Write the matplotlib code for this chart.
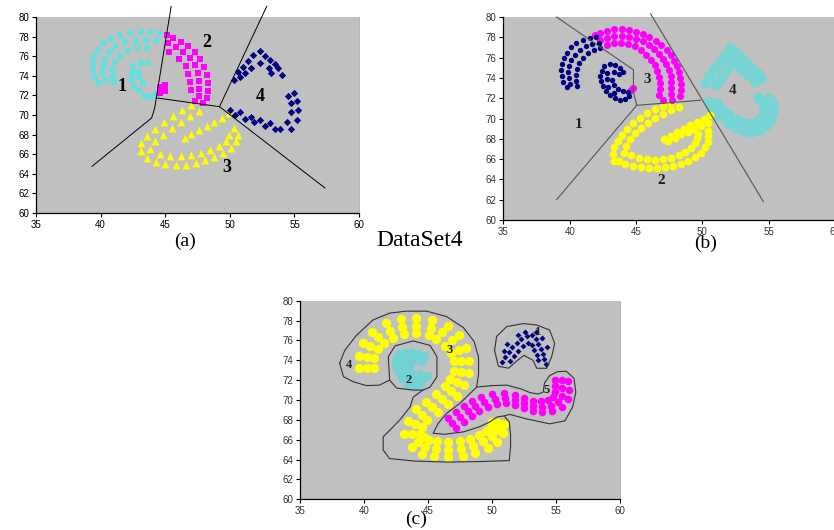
import matplotlib
matplotlib.use("Agg")
import matplotlib.pyplot as plt

x_ticks = [35, 40, 45, 50, 55, 60]
y_ticks = [60, 62, 64, 66, 68, 70, 72, 74, 76, 78, 80]

# ---------------- panel (a) ----------------
a_cyan = [(44.6,78.3),(43.9,78.5),(43.1,78.5),(42.3,78.4),(41.5,78.2),(40.8,77.8),(40.2,77.3),
          (39.8,76.6),(39.5,75.9),(39.4,75.2),(39.4,74.5),(39.6,73.8),(39.9,73.3),
          (44.3,77.6),(43.5,77.7),(42.7,77.6),(41.9,77.4),(41.2,77.0),(40.7,76.4),(40.3,75.7),
          (40.2,75.0),(40.2,74.3),(40.4,73.6),
          (43.6,76.8),(42.9,76.8),(42.1,76.5),(41.5,76.0),(41.1,75.4),(40.9,74.7),(40.95,74.0),(41.0,73.4),
          (42.5,75.0),(43.1,75.3),(43.7,75.3),(42.4,74.3),(42.9,74.4),(42.4,73.6),(42.6,72.9),
          (43.0,72.4),(43.4,71.9),(43.9,71.8),(44.3,72.1),(43.0,73.9),(43.3,73.3)]
a_magenta = [(45.1,78.2),(45.6,77.9),(46.2,77.5),(46.8,77.0),(47.3,76.4),(47.7,75.7),(48.0,74.9),
             (48.2,74.1),(48.3,73.3),(48.3,72.5),(48.2,71.7),
             (45.2,77.3),(45.8,76.9),(46.4,76.4),(46.9,75.8),(47.3,75.1),(47.5,74.3),(47.6,73.5),
             (47.6,72.7),(47.6,71.9),
             (45.3,76.4),(46.1,75.7),(46.6,75.0),(46.8,74.2),(46.9,73.4),(47.0,72.6),(47.3,71.4),(47.9,71.2),
             (44.6,72.9),(45.0,72.5),(44.6,72.2),(45.0,73.1)]
a_yellow = [(47.0,71.0),(46.3,70.5),(45.6,69.9),(44.9,69.3),(44.2,68.6),(43.6,67.9),(43.1,67.1),(43.1,66.3),
            (47.6,70.4),(46.9,69.9),(46.2,69.3),(45.5,68.7),(44.8,68.0),(44.2,67.3),(43.8,66.5),
            (43.6,65.6),(44.3,65.2),(45.0,65.0),(45.8,64.9),(46.6,64.9),(47.4,65.1),(48.1,65.4),
            (48.8,65.7),(49.5,66.1),(50.1,66.6),(50.5,67.3),(50.6,68.0),(50.3,68.7),
            (44.6,66.0),(45.4,65.8),(46.2,65.8),(47.0,65.9),(47.8,66.1),(48.5,66.4),(49.2,66.8),
            (49.7,67.3),(49.9,68.0),
            (49.9,70.2),(49.4,69.7),(48.8,69.3),(48.2,68.9),(47.6,68.5),(47.0,68.1),(46.5,67.7)]
a_blue = [(50.3,73.6),(51.0,74.9),(51.8,76.1),(52.3,76.5),(53.1,75.6),(53.75,74.8),(54.0,74.1),
          (50.8,73.9),(51.6,74.8),(52.3,75.3),(53.0,74.8),(53.2,74.3),
          (50.6,74.4),(51.4,75.5),(52.7,76.0),(53.5,75.2),(51.2,74.3),
          (50.0,70.5),(50.8,70.3),(51.6,69.8),(52.3,69.5),(53.1,69.2),(53.9,68.6),(54.7,68.6),
          (55.2,69.5),(55.3,70.5),(55.2,71.4),(55.0,72.2),(54.5,71.9),
          (50.4,70.0),(51.2,69.6),(51.9,69.3),(52.7,68.9),(53.5,68.6),(54.4,69.3),(54.7,70.3),(54.7,71.2)]
a_lines = [[(45.46,81.1),(44.18,70.7),(43.95,69.7),(39.33,64.76)],
           [(44.3,71.75),(49.2,70.85)],
           [(49.2,70.85),(52.86,81.1)],
           [(49.2,70.85),(57.37,62.55)]]
a_labels = [("1",41.65,72.86),("2",48.2,77.45),("3",49.77,64.6),("4",52.35,71.84)]

# ---------------- panel (b) ----------------
b_blue = [(42.0,78.0),(41.5,77.95),(41.0,77.7),(40.5,77.4),(40.1,77.0),(39.8,76.5),(39.55,76.0),
          (39.4,75.4),(39.35,74.8),(39.4,74.2),(39.5,73.6),(39.8,73.1),
          (42.2,77.45),(41.7,77.35),(41.2,77.1),(40.75,76.75),(40.4,76.3),(40.1,75.8),(39.95,75.2),
          (39.9,74.6),(39.95,74.0),(40.05,73.4),
          (42.3,76.9),(41.8,76.75),(41.35,76.45),(41.0,76.0),(40.7,75.5),(40.55,74.9),(40.5,74.3),
          (40.5,73.7),(40.55,73.2),
          (42.6,75.2),(43.0,75.4),(43.4,75.3),(43.8,75.0),(44.0,74.6),(42.4,74.7),(42.3,74.2),
          (42.35,73.7),(42.5,73.2),(42.7,72.7),(43.0,72.3),(43.4,72.0),(43.8,71.8),(44.2,71.9),
          (44.5,72.2),(44.4,72.6),(44.0,72.7),(43.6,72.9),(43.3,73.3),(43.2,73.8),(42.8,74.5),
          (42.8,73.9),(43.3,74.6),(43.7,74.4),(42.9,73.1),(43.3,72.5)]
b_magenta = [(41.9,78.2),(42.3,78.45),(42.8,78.65),(43.3,78.8),(43.9,78.8),(44.5,78.7),(45.0,78.55),
             (45.5,78.3),(46.0,78.0),(46.5,77.65),(46.9,77.2),(47.3,76.75),(47.6,76.25),(47.85,75.7),
             (48.05,75.15),(48.2,74.6),(48.3,74.0),(48.35,73.4),(48.35,72.8),(48.3,72.2),
             (42.3,77.75),(42.8,77.95),(43.35,78.1),(43.9,78.15),(44.5,78.05),(45.0,77.85),(45.5,77.6),
             (45.95,77.25),(46.35,76.85),(46.7,76.4),(47.0,75.9),(47.25,75.35),(47.45,74.8),(47.6,74.2),
             (47.65,73.6),(47.65,73.0),(47.6,72.4),(47.7,71.8),
             (42.8,77.25),(43.3,77.4),(43.85,77.45),(44.4,77.35),(44.9,77.1),(45.35,76.75),(45.75,76.3),
             (46.1,75.8),(46.4,75.3),(46.6,74.7),(46.75,74.1),(46.8,73.5),(46.8,72.9),(46.75,72.3),
             (47.0,71.8),(44.6,72.8),(44.8,73.0)]
b_yellow = [(47.6,71.5),(47.0,71.2),(46.4,70.9),(45.85,70.5),(45.3,70.05),(44.8,69.55),(44.35,69.0),
            (43.95,68.4),(43.6,67.8),(43.35,67.15),(43.25,66.5),(43.35,65.85),
            (48.2,71.1),(47.6,70.8),(47.0,70.45),(46.45,70.05),(45.9,69.6),(45.4,69.1),(44.95,68.55),
            (44.55,67.95),(44.25,67.3),(44.1,66.65),
            (43.7,65.8),(44.2,65.5),(44.8,65.3),(45.4,65.2),(46.0,65.15),(46.6,65.15),(47.2,65.2),
            (47.8,65.35),(48.4,65.55),(48.95,65.85),(49.45,66.2),(49.9,66.65),(50.2,67.15),(50.4,67.7),
            (50.45,68.25),(50.4,68.75),
            (44.6,66.4),(45.2,66.15),(45.8,66.0),(46.4,65.95),(47.0,66.0),(47.6,66.15),(48.2,66.4),
            (48.7,66.7),(49.15,67.1),(49.45,67.55),(49.6,68.05),(49.65,68.5),
            (50.6,70.3),(50.1,70.0),(49.6,69.7),(49.1,69.35),(48.6,69.0),(48.1,68.65),(47.6,68.3),(47.1,68.0),
            (50.4,69.6),(49.9,69.3),(49.4,69.0),(48.9,68.7),(48.4,68.45),(47.9,68.1),(47.4,67.8)]
b_cyan = [(50.2,73.5),(50.5,74.2),(50.9,74.9),(51.3,75.6),(51.7,76.3),(52.1,76.9),(52.5,76.5),(52.9,76.0),
          (53.3,75.5),(53.7,75.0),(54.1,74.5),(54.4,74.0),
          (51.0,73.3),(51.3,73.9),(51.6,74.5),(51.9,75.1),(52.2,75.6),(52.6,75.3),(53.0,74.8),(53.4,74.4),
          (53.8,74.0),(54.0,73.6),
          (50.4,71.6),(50.8,70.9),(51.3,70.2),(51.9,69.6),(52.5,69.1),(53.1,68.8),(53.7,68.7),(54.3,68.9),
          (54.8,69.4),(55.2,70.0),(55.35,70.7),(55.3,71.4),(55.0,72.0),
          (51.1,71.5),(51.5,70.9),(52.0,70.3),(52.6,69.9),(53.2,69.6),(53.8,69.6),(54.3,69.9),(54.6,70.4),
          (54.7,71.0),(54.5,71.6),(54.2,72.1)]
b_lines = [[(39.0,80.0),(44.8,74.8),(44.8,72.6),(45.05,71.3)],
           [(39.0,62.0),(45.05,71.3),(49.85,71.8)],
           [(46.1,80.3),(54.6,61.8)]]
b_labels = [("1",40.65,69.4),("2",46.9,63.9),("3",45.85,73.85),("4",52.3,72.8)]

# ---------------- panel (c) ----------------
c_yellow = [(40.2,73.2),(40.2,74.3),(40.5,75.4),(41.1,76.3),(42.0,77.0),(43.0,77.4),(44.1,77.5),
            (45.2,77.3),(46.1,76.8),(46.9,76.0),(47.4,75.0),(47.6,73.9),(47.6,72.8),(47.3,71.8),
            (46.8,70.9),(46.1,70.1),(45.3,69.3),(44.5,68.5),(43.95,67.6),(43.75,66.6),(44.2,65.8),
            (44.8,65.3),(45.6,65.1),(46.6,65.0),(47.6,65.1),(48.5,65.4),(49.3,65.9),(50.0,66.4),
            (50.45,67.0),(50.5,67.7),
            (39.6,73.2),(39.6,74.4),(39.9,75.7),(40.65,76.85),(41.75,77.75),(42.9,78.2),(44.1,78.3),
            (45.35,78.1),(46.55,77.45),(47.45,76.55),(48.0,75.25),(48.2,73.9),(48.2,72.7),(47.85,71.5),
            (47.3,70.4),(46.55,69.55),(45.75,68.75),(44.95,67.95),(44.5,67.3),(44.35,66.6),(44.65,66.3),
            (45.05,66.0),(45.7,65.85),(46.6,65.75),(47.5,65.85),(48.3,66.1),(48.95,66.5),(49.55,66.85),
            (49.95,67.25),(50.0,67.8),
            (40.8,73.2),(40.8,74.2),(41.1,75.1),(41.55,75.75),(42.25,76.25),(43.1,76.6),(44.1,76.7),
            (45.05,76.5),(45.65,76.15),(46.35,75.45),(46.8,74.75),(47.0,73.9),(47.0,72.9),(46.75,72.1),
            (46.3,71.4),(45.65,70.65),(44.85,69.85),(44.05,69.05),(43.4,67.9),(43.15,66.6),(43.75,65.25),
            (44.55,64.6),(45.5,64.35),(46.6,64.3),(47.7,64.35),(48.7,64.65),(49.65,65.2),(50.4,65.8),
            (50.85,66.7),(50.9,67.6)]
c_cyan = [(42.7,74.6),(43.2,74.7),(43.7,74.7),(44.2,74.6),(44.7,74.4),
          (42.5,74.0),(43.0,74.1),(43.5,74.1),(44.0,74.0),(44.5,73.9),
          (42.5,73.4),(43.0,73.4),(43.5,73.4),
          (42.7,72.8),(43.2,72.8),(43.7,72.7),(44.4,72.6),
          (43.0,72.2),(43.5,72.1),(44.0,72.0),(44.5,72.1),(44.9,72.4),
          (43.4,71.6),(43.9,71.5),(44.4,71.6)]
c_blue = [(50.8,73.8),(51.0,74.3),(51.3,74.8),(51.6,75.3),(51.95,75.7),(52.3,76.1),(52.7,76.4),
          (53.1,76.5),(53.4,76.1),(53.6,75.6),(53.8,75.1),(54.0,74.6),(54.1,74.1),(54.2,73.6),
          (51.4,73.9),(51.7,74.4),(52.0,74.9),(52.4,75.4),(52.8,75.7),(53.1,75.5),(53.3,75.0),
          (53.5,74.5),(53.6,74.0),
          (51.2,75.6),(52.0,76.5),(52.6,76.9),(53.4,76.8),(54.3,75.3),(50.9,74.9),(53.9,76.2)]
c_magenta = [(46.6,68.15),(47.2,68.75),(47.85,69.35),(48.4,69.9),(49.15,70.3),(50.0,70.6),(50.9,70.75),
             (51.8,70.55),(52.5,70.25),(53.2,69.95),(53.8,69.9),(54.35,70.0),(54.75,70.3),(54.9,70.8),
             (54.95,71.4),(54.95,72.0),
             (46.85,67.65),(47.5,68.25),(48.15,68.85),(48.7,69.4),(49.4,69.8),(50.2,70.1),(51.0,70.2),
             (51.8,70.0),(52.5,69.7),(53.2,69.4),(53.9,69.3),(54.6,69.4),(55.15,69.8),(55.45,70.45),
             (55.5,71.2),(55.45,72.0),
             (47.15,67.2),(47.8,67.8),(48.45,68.4),(49.0,68.9),(49.7,69.3),(50.4,69.55),(51.1,69.65),
             (51.8,69.45),(52.5,69.15),(53.2,68.85),(53.9,68.75),(54.7,68.85),(55.45,69.3),(55.9,70.1),
             (56.0,71.0),(55.9,71.9)]
c_outlines = [
    [(38.1,73.7),(38.5,75.0),(39.4,76.5),(40.7,78.06),(42.0,78.75),(43.3,78.95),(44.9,78.95),
     (46.46,78.4),(47.76,77.3),(48.6,75.9),(48.95,74.3),(48.95,72.6),(48.8,71.3),(47.5,69.67),
     (46.46,68.66),(45.8,67.65),(45.4,66.65),(46.3,66.55),(47.8,66.8),(49.0,67.3),(49.84,67.8),
     (50.4,68.3),(50.95,68.4),(51.35,67.8),(51.45,66.5),(51.45,65.3),(51.35,63.9),(49.0,63.8),
     (46.5,63.75),(44.0,63.85),(42.0,64.1),(41.5,64.96),(41.5,66.3),(42.2,67.2),(42.8,68.0),
     (43.6,69.3),(43.85,70.3),(44.6,71.0),(45.16,71.3),(45.7,72.35),(45.7,74.36),(45.16,75.5),
     (43.85,75.95),(42.42,75.45),(41.9,74.36),(42.0,72.0),(41.2,71.5),(40.2,71.45),(39.16,71.84),
     (38.4,72.35),(38.1,73.7)],
    [(42.0,72.0),(42.55,71.2),(43.85,71.0),(44.6,71.0)],
    [(48.8,71.3),(50.0,71.45),(51.15,71.5),(52.3,71.1),(52.97,70.75),(53.6,70.6),(54.0,70.8),
     (54.1,71.7),(54.5,72.45),(55.1,72.85),(55.8,72.9),(56.4,72.2),(56.55,70.8),(56.3,69.3),
     (55.7,67.9),(54.5,67.6),(52.7,68.1),(51.4,68.55),(50.95,68.4)],
    [(50.2,75.0),(50.36,76.4),(51.15,77.4),(52.45,77.7),(53.5,77.55),(54.5,77.05),(54.9,75.7),
     (54.66,74.36),(54.27,73.2),(53.5,73.2),(53.2,74.0),(52.5,74.5),(51.9,73.9),(51.3,73.2),
     (50.5,73.4),(50.2,75.0)]]
c_labels = [("1",53.5,76.9),("2",43.45,72.0),("3",46.7,75.0),("4",38.8,73.5),("5",54.3,71.0)]

captions = [("(a)",0.2218,0.5453,14),("DataSet4",0.5036,0.5453,17),
            ("(b)",0.8465,0.5415,14),("(c)",0.4990,0.0200,14)]


def style(ax, tick_color):
    ax.set_facecolor('#c0c0c0')
    ax.set_xlim(35, 60)
    ax.set_ylim(60, 80)
    ax.set_xticks(x_ticks)
    ax.set_yticks(y_ticks)
    ax.spines['top'].set_visible(False)
    ax.spines['right'].set_color('#a8a8a8')
    ax.spines['right'].set_linewidth(0.6)
    ax.spines['left'].set_linewidth(0.9)
    ax.spines['bottom'].set_linewidth(0.9)
    ax.tick_params(labelsize=7, length=3, width=0.8, pad=2, labelcolor=tick_color)
    for lab in ax.get_xticklabels() + ax.get_yticklabels():
        lab.set_fontfamily('Liberation Sans')


def pts(ax, data, color, marker, size):
    xs, ys = zip(*data)
    ax.scatter(xs, ys, s=size, c=color, marker=marker, linewidths=0, zorder=2)


def lines(ax, segs, color, lw):
    for seg in segs:
        xs, ys = zip(*seg)
        ax.plot(xs, ys, color=color, lw=lw, clip_on=False, zorder=3)


fig = plt.figure(figsize=(8.34, 5.30), dpi=100)

ax_a = fig.add_axes([0.0432, 0.5981, 0.3873, 0.3698])
style(ax_a, 'black')
pts(ax_a, a_cyan, '#66dede', 's', 18)
pts(ax_a, a_magenta, '#ff00ff', 's', 24)
pts(ax_a, a_yellow, '#ffff00', '^', 32)
pts(ax_a, a_blue, '#000080', 'D', 14)
lines(ax_a, a_lines, 'black', 0.7)
for t, x, y in a_labels:
    ax_a.text(x, y, t, fontsize=13, fontweight='bold', family='Liberation Serif',
              ha='center', va='center', zorder=4)

ax_b = fig.add_axes([0.6037, 0.5849, 0.3975, 0.3830])
style(ax_b, '#333333')
pts(ax_b, b_cyan, '#76d4d4', 'o', 60)
pts(ax_b, b_yellow, '#ffff00', 'o', 32)
pts(ax_b, b_magenta, '#ff00ff', 'o', 26)
pts(ax_b, b_blue, '#000080', 'o', 15)
lines(ax_b, b_lines, '#555555', 0.8)
for t, x, y in b_labels:
    ax_b.text(x, y, t, fontsize=11, fontweight='bold', family='Liberation Serif',
              color='#202020', ha='center', va='center', zorder=4)

ax_c = fig.add_axes([0.3597, 0.0579, 0.3837, 0.3747])
style(ax_c, '#333333')
pts(ax_c, c_yellow, '#ffff00', 'o', 45)
pts(ax_c, c_cyan, '#70d2d2', 'o', 45)
pts(ax_c, c_magenta, '#ff00ff', 'o', 30)
pts(ax_c, c_blue, '#000080', 'D', 9)
lines(ax_c, c_outlines, '#333333', 0.8)
for t, x, y in c_labels:
    ax_c.text(x, y, t, fontsize=9, fontweight='bold', family='Liberation Serif',
              color='#202020', ha='center', va='center', zorder=4)

for t, x, y, fs in captions:
    fig.text(x, y, t, fontsize=fs, family='Liberation Serif', ha='center', va='center')

fig.savefig('out.png', dpi=100)
